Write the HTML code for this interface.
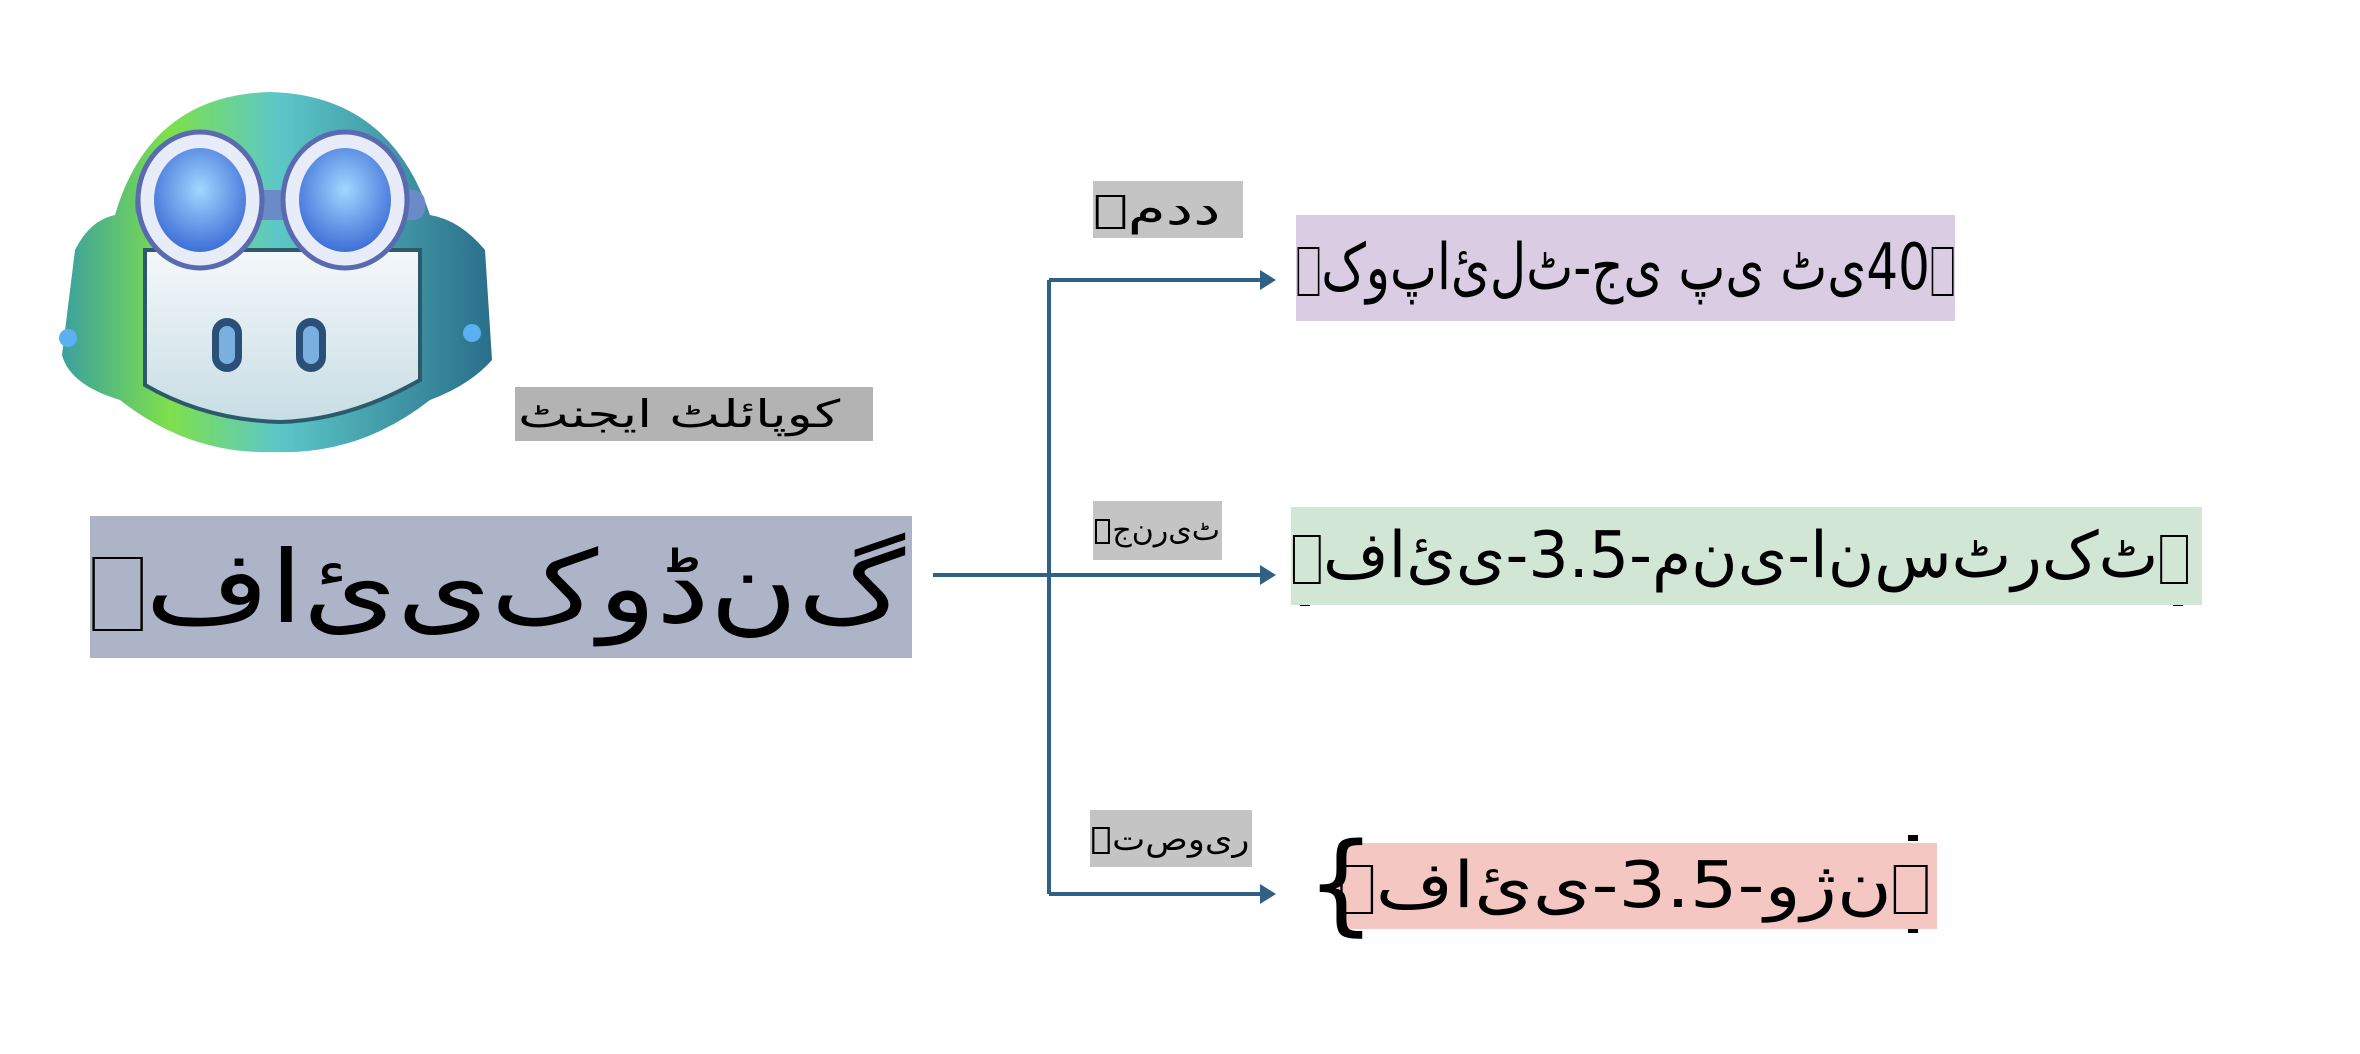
<!DOCTYPE html>
<html><head><meta charset="utf-8"><style>
body{margin:0;width:2360px;height:1054px;background:#fff;position:relative;overflow:hidden;font-family:"DejaVu Sans","Liberation Sans",sans-serif;}
.b{position:absolute;display:flex;align-items:center;white-space:nowrap;color:#000;overflow:visible;}
.o{direction:ltr;unicode-bidi:bidi-override;display:inline-block;transform-origin:left center;}
.t{display:inline-block;border:2px solid #000;width:0.38em;height:0.7em;vertical-align:middle;margin:0 2px;}
</style></head><body>
<svg width="2360" height="1054" style="position:absolute;left:0;top:0">
<defs>
<linearGradient id="h" x1="0" y1="0" x2="1" y2="0"><stop offset="0" stop-color="#3aa0a0"/><stop offset="0.25" stop-color="#7ee04a"/><stop offset="0.5" stop-color="#5cc8c8"/><stop offset="1" stop-color="#2a6f8a"/></linearGradient>
<radialGradient id="g" cx="0.5" cy="0.4" r="0.6"><stop offset="0" stop-color="#9fd8ff"/><stop offset="1" stop-color="#3f6fd8"/></radialGradient>
<linearGradient id="f" x1="0" y1="0" x2="0" y2="1"><stop offset="0" stop-color="#f4f8fa"/><stop offset="1" stop-color="#c7dde4"/></linearGradient>
</defs>
<path d="M75,250 Q90,220 115,215 Q150,95 270,92 Q390,95 430,215 Q460,220 485,250 L492,360 Q470,385 430,400 Q360,455 275,452 Q190,455 120,400 Q70,385 62,355 Z" fill="url(#h)"/>
<path d="M145,250 L420,250 L420,380 Q350,420 280,422 Q205,420 145,385 Z" fill="url(#f)" stroke="#2d5a6a" stroke-width="4"/>
<rect x="135" y="190" width="290" height="30" rx="12" fill="#6a8ac8"/>
<ellipse cx="200" cy="200" rx="62" ry="68" fill="#e8ecf8" stroke="#5a6ab0" stroke-width="5"/>
<ellipse cx="200" cy="200" rx="46" ry="52" fill="url(#g)"/>
<ellipse cx="345" cy="200" rx="62" ry="68" fill="#e8ecf8" stroke="#5a6ab0" stroke-width="5"/>
<ellipse cx="345" cy="200" rx="46" ry="52" fill="url(#g)"/>
<rect x="212" y="318" width="30" height="54" rx="15" fill="#2a5078"/><rect x="219" y="326" width="16" height="38" rx="8" fill="#7ab0e0"/>
<rect x="296" y="318" width="30" height="54" rx="15" fill="#2a5078"/><rect x="303" y="326" width="16" height="38" rx="8" fill="#7ab0e0"/>
<circle cx="68" cy="338" r="9" fill="#5ab0f0"/><circle cx="472" cy="333" r="9" fill="#5ab0f0"/>
<g stroke="#2e6185" stroke-width="4" fill="none">
<path d="M933,575 H1049 M1049,280 V894 M1049,280 H1262 M1049,575 H1262 M1049,894 H1262"/>
</g>
<g fill="#2e6185"><path d="M1276,280 l-16,-10 v20z"/><path d="M1276,575 l-16,-10 v20z"/><path d="M1276,894 l-16,-10 v20z"/></g>
<path d="M1300,512 h10 M1300,603 h10 M2173,512 h10 M2173,603 h10 M1908,838 h10 M1908,930 h10" stroke="#000" stroke-width="6"/>
</svg>
<div class="b" style="left:515px;top:387px;width:358px;height:54px;background:#b3b3b3;font-size:38px;direction:ltr"><span style="display:inline-block;transform:scaleX(1.42);transform-origin:left center;margin-left:3px"><span style="unicode-bidi:isolate">ایجنٹ</span> <span style="unicode-bidi:isolate">کوپائلٹ</span></span></div>
<div class="b" style="left:90px;top:516px;width:822px;height:142px;background:#aeb4c8;font-size:100px"><span class="o" style="transform:scaleX(1.2)"><span class="t"></span>ف&#8204;ا&#8204;ئ&#8204;ی&#8204;ک&#8204;و&#8204;ڈ&#8204;ن&#8204;گ</span></div>
<div class="b" style="left:1093px;top:181px;width:150px;height:57px;background:#c4c4c4;font-size:44px"><span class="o" style="transform:scaleX(1.4)"><span class="t"></span>م&#8204;د&#8204;د</span></div>
<div class="b" style="left:1296px;top:215px;width:659px;height:106px;background:#d9cce3;font-size:64px"><span class="o" style="transform:scaleX(0.78)"><span class="t"></span>ک&#8204;و&#8204;پ&#8204;ا&#8204;ئ&#8204;ل&#8204;ٹ-ج&#8204;ی پ&#8204;ی ٹ&#8204;ی40<span class="t"></span></span></div>
<div class="b" style="left:1093px;top:501px;width:129px;height:59px;background:#c4c4c4;font-size:30px"><span class="o"><span class="t"></span>ج&#8204;ن&#8204;ر&#8204;ی&#8204;ٹ</span></div>
<div class="b" style="left:1291px;top:507px;width:911px;height:98px;background:#d2e6d6;font-size:64px"><span class="o" style="transform:scaleX(0.99)"><span class="t"></span>ف&#8204;ا&#8204;ئ&#8204;ی-3.5-م&#8204;ن&#8204;ی-ا&#8204;ن&#8204;س&#8204;ٹ&#8204;ر&#8204;ک&#8204;ٹ<span class="t"></span></span></div>
<div class="b" style="left:1090px;top:810px;width:162px;height:57px;background:#c4c4c4;font-size:32px"><span class="o" style="transform:scaleX(1.1)"><span class="t"></span>ت&#8204;ص&#8204;و&#8204;ی&#8204;ر</span></div>
<div class="b" style="left:1338px;top:843px;width:599px;height:86px;background:#f4c7c3;font-size:64px"><span class="o" style="transform:scaleX(1.17)"><span class="t"></span>ف&#8204;ا&#8204;ئ&#8204;ی-3.5-و&#8204;ژ&#8204;ن<span class="t"></span></span></div>
<div style="position:absolute;left:1306px;top:818px;font-size:110px;line-height:130px;font-family:'DejaVu Sans',sans-serif;">{</div>
</body></html>
